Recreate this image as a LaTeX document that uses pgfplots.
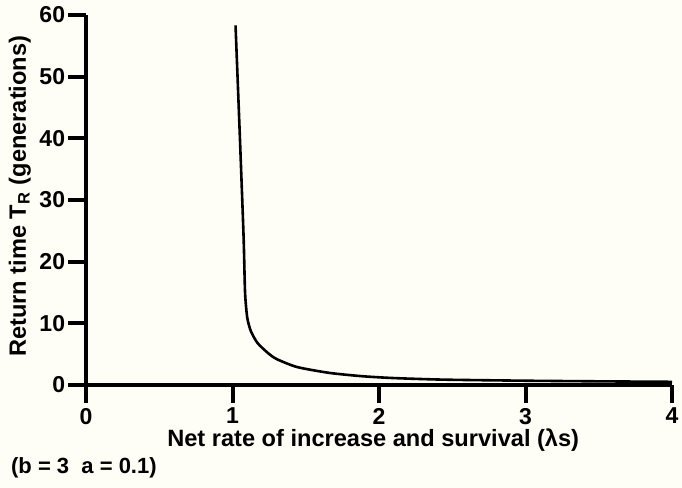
\documentclass[border=0pt]{standalone}
\usepackage{pgfplots}
\pgfplotsset{compat=1.18}
\usetikzlibrary{backgrounds}
\usepackage{fontspec}
\setmainfont{Liberation Sans}
\definecolor{paper}{RGB}{254,254,246}
\begin{document}
\begin{tikzpicture}
\begin{axis}[
  scale only axis,
  width=293pt, height=185pt,
  xmin=0, xmax=4, ymin=0, ymax=60,
  axis lines*=left,
  clip=false,
  xtick={0,1,2,3,4},
  ytick={0,10,...,60},
  tick align=outside,
  major tick length=9pt,
  every tick/.style={black, line width=2pt},
  axis line style={black, line width=1.8pt},
  tick label style={font=\bfseries\fontsize{11.5}{13}\selectfont},
  /pgf/number format/assume math mode=true,
  xticklabel style={yshift=1pt},
  yticklabel style={xshift=2pt},
  label style={font=\bfseries\fontsize{11.8}{13}\selectfont},
  xlabel={Net rate of increase and survival (λs)},
  ylabel={Return time T\textsubscript{R} (generations)},
  xlabel style={at={(axis description cs:0.49,-0.149)}, anchor=center},
  ylabel style={at={(axis description cs:-0.113,0.51)}, anchor=center},
]
\addplot[black, line width=1.3pt, smooth, tension=0.4] coordinates {
  (1.02,58.3) (1.05,40) (1.075,24) (1.085,15) (1.10,10.9) (1.125,8.7)
  (1.17,6.8) (1.24,5.2) (1.30,4.2) (1.44,2.9) (1.66,1.95) (1.89,1.4)
  (2.11,1.1) (2.45,0.85) (3.0,0.68) (3.5,0.58) (4.0,0.5)
};
\node[anchor=west, font=\bfseries\fontsize{11}{13}\selectfont] at (axis description cs:-0.14,-0.224) {(b = 3~~a = 0.1)};
\coordinate (bl) at (axis description cs:-0.147,-0.278);
\coordinate (tr) at (axis description cs:1.017,1.0405);
\end{axis}
\begin{scope}[on background layer]
\fill[paper] (bl) rectangle (tr);
\end{scope}
\pgfresetboundingbox
\path[use as bounding box] (bl) rectangle (tr);
\end{tikzpicture}
\end{document}
